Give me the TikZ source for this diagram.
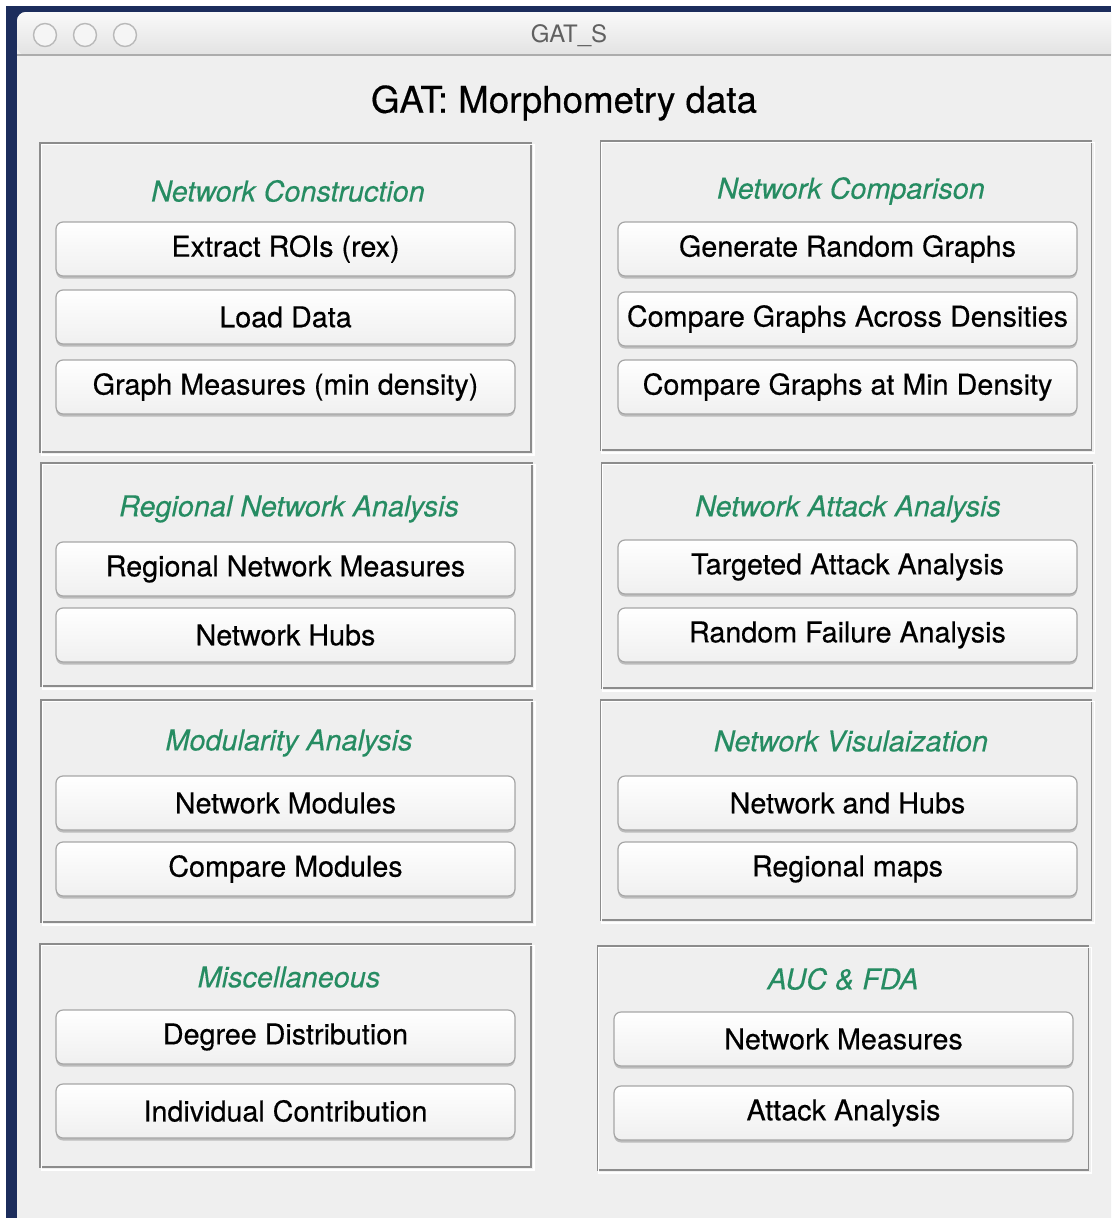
\documentclass[tikz,border=0pt]{standalone}
\usepackage{fontspec}
\setmainfont{TeX Gyre Heros}
\usetikzlibrary{shadows}
\definecolor{navy}{RGB}{28,45,92}
\definecolor{winbg}{RGB}{239,239,239}
\definecolor{framegray}{RGB}{140,140,140}
\definecolor{heading}{RGB}{38,140,98}

\begin{document}
\begin{tikzpicture}[x=1pt,y=-1pt]
\tikzstyle{every node}+=[inner sep=0pt]
\tikzstyle{panel}=[draw=framegray, line width=1.6pt, minimum width=491pt]
\tikzstyle{heading}=[text=heading, font=\fontsize{28.8}{30}\selectfont\itshape\addfontfeature{FakeBold=0.3}]
\tikzstyle{btn}=[draw=gray!70, line width=1.2pt, rounded corners=7pt, top color=white, bottom color=gray!12,
  minimum width=459pt, minimum height=54pt, font=\fontsize{28.7}{30}\selectfont\addfontfeature{FakeBold=0.4},
  drop shadow={shadow xshift=0pt, shadow yshift=-2.5pt, opacity=.45}]
\tikzstyle{lamp}=[circle, draw=gray!55, line width=1.4pt, fill=gray!8, minimum size=23pt]
\useasboundingbox (0,0) rectangle (1111,1218);
\clip (0,0) rectangle (1111,1218);
\fill [white] (0,0) rectangle (1111,1218);
\fill [navy] (6,6) rectangle (1111,1218);
\fill [winbg, rounded corners=9pt] (17,1230) -- (17,12) -- (1125,12) -- (1125,1230) -- cycle;
\shade [top color=gray!5, bottom color=gray!22, rounded corners=9pt] (17,55) -- (17,12) -- (1125,12) -- (1125,55) -- cycle;
\draw [gray!65, line width=1.5pt] (17,55) -- (1111,55);
\node [lamp] (close) at (45,35) {};
\node [lamp] (mini) at (85,35) {};
\node [lamp] (zoom) at (125,35) {};
\node [text=gray!75!black, font=\fontsize{24}{26}\selectfont] (wintitle) at (569,36) {GAT\_S};
\node [font=\fontsize{36.7}{38}\selectfont\addfontfeature{FakeBold=0.4}] (maintitle) at (564,103) {GAT: Morphometry data};

\node [panel, minimum height=309pt] (pcons) at (285.5,297.5) {};
\node [panel, minimum height=223pt] (preg) at (286.5,574.5) {};
\node [panel, minimum height=222pt] (pmod) at (286.5,811) {};
\node [panel, minimum height=223pt] (pmisc) at (285.5,1055.5) {};
\node [panel, minimum height=309pt] (pcomp) at (846,295.5) {};
\node [panel, minimum height=225pt] (patt) at (847,575.5) {};
\node [panel, minimum height=220pt] (pvis) at (846,810) {};
\node [panel, minimum height=224pt] (pauc) at (843,1058) {};
\foreach \p in {pcons,preg,pmod,pmisc,pcomp,patt,pvis,pauc}
  \draw [white, line width=1.4pt] ([shift={(2,2)}]\p.north west) rectangle ([shift={(2,2)}]\p.south east);

\node [heading] (tcons) at (288,191) {Network Construction};
\node [heading] (treg) at (289,509) {Regional Network Analysis};
\node [heading] (tmod) at (289,743) {Modularity Analysis};
\node [heading] (tmisc) at (289,977) {Miscellaneous};
\node [heading] (tcomp) at (851,191) {Network Comparison};
\node [heading] (tatt) at (848,509) {Network Attack Analysis};
\node [heading] (tvis) at (851,741) {Network Visulaization};
\node [heading] (tauc) at (843,979) {AUC \& FDA};

\node [btn] (rex) at (285.5,249) {Extract ROIs (rex)};
\node [btn] (load) at (285.5,317) {Load Data};
\node [btn] (gmeas) at (285.5,387) {Graph Measures (min density)};
\node [btn] (regmeas) at (285.5,569) {Regional Network Measures};
\node [btn] (hubs) at (285.5,635) {Network Hubs};
\node [btn] (modules) at (285.5,803) {Network Modules};
\node [btn] (cmpmod) at (285.5,869) {Compare Modules};
\node [btn] (degree) at (285.5,1037) {Degree Distribution};
\node [btn] (indiv) at (285.5,1111) {Individual Contribution};
\node [btn] (randg) at (847.5,249) {Generate Random Graphs};
\node [btn] (across) at (847.5,319) {Compare Graphs Across Densities};
\node [btn] (mindens) at (847.5,387) {Compare Graphs at Min Density};
\node [btn] (target) at (847.5,567) {Targeted Attack Analysis};
\node [btn] (failure) at (847.5,635) {Random Failure Analysis};
\node [btn] (nethubs) at (847.5,803) {Network and Hubs};
\node [btn] (maps) at (847.5,869) {Regional maps};
\node [btn] (aucmeas) at (843.5,1039) {Network Measures};
\node [btn] (aucatt) at (843.5,1113) {Attack Analysis};
\end{tikzpicture}
\end{document}
